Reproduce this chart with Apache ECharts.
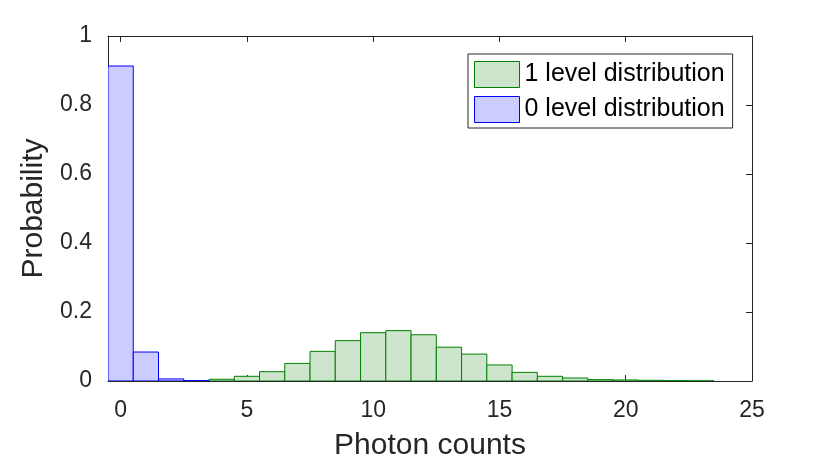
<!DOCTYPE html>
<html>
<head>
<meta charset="utf-8">
<script src="https://cdn.jsdelivr.net/npm/echarts@6/dist/echarts.min.js"></script>
<style>
  html, body { margin: 0; padding: 0; background: #fff; }
  #chart { width: 830px; height: 469px; }
</style>
</head>
<body>
<div id="chart"></div>
<script>
// photon counts (bin centres) and probabilities
const zeroCounts = [0, 1, 2, 3];
const zeroProb = [0.913, 0.084, 0.006, 0.001];

const oneCounts = [3, 4, 5, 6, 7, 8, 9, 10, 11, 12, 13, 14, 15, 16, 17, 18, 19, 20, 21, 22, 23];
const oneProb = [0.001, 0.005, 0.0136, 0.027, 0.051, 0.086, 0.117, 0.140, 0.146, 0.134, 0.098,
  0.078, 0.0465, 0.025, 0.0136, 0.0087, 0.004, 0.003, 0.002, 0.001, 0.0005];

const xTicks = [0, 5, 10, 15, 20, 25];

const axisColor = '#262626';
const font = 'Liberation Sans';

function histBar(fill, stroke) {
  return function (params, api) {
    const x = api.value(0);
    const top = api.coord([x - 0.5, api.value(1)]);
    const bottom = api.coord([x + 0.5, 0]);
    return {
      type: 'rect',
      shape: { x: top[0], y: top[1], width: bottom[0] - top[0], height: bottom[1] - top[1] },
      style: { fill: fill, stroke: stroke, lineWidth: 1 }
    };
  };
}

const chart = echarts.init(document.getElementById('chart'));

const xBase = {
  type: 'value',
  min: -0.5,
  max: 25,
  splitLine: { show: false },
  axisLine: { onZero: false, lineStyle: { color: axisColor, width: 1 } },
  axisTick: { inside: true, length: 6, customValues: xTicks, lineStyle: { color: axisColor } }
};
const yBase = {
  type: 'value',
  min: 0,
  max: 1,
  interval: 0.2,
  splitLine: { show: false },
  axisLine: { show: true, onZero: false, lineStyle: { color: axisColor, width: 1 } },
  axisTick: { show: true, inside: true, length: 6, lineStyle: { color: axisColor } }
};

let option = {
  animation: false,
  textStyle: { fontFamily: font },
  grid: { left: 108, right: 78, top: 36, bottom: 88 },
  legend: {
    orient: 'vertical',
    left: 468,
    top: 54,
    padding: [7, 8, 5, 6],
    itemWidth: 45,
    itemHeight: 26,
    itemGap: 8,
    borderColor: axisColor,
    borderWidth: 1,
    textStyle: { fontSize: 25, color: '#000', fontFamily: font },
    data: [
      { name: '1 level distribution', icon: 'rect',
        itemStyle: { color: '#cce5cc', borderColor: '#008000', borderWidth: 1 } },
      { name: '0 level distribution', icon: 'rect',
        itemStyle: { color: '#ccccff', borderColor: '#0000ff', borderWidth: 1 } }
    ]
  },
  xAxis: [
    Object.assign({}, xBase, {
      position: 'bottom',
      name: 'Photon counts',
      nameLocation: 'middle',
      nameGap: 50,
      nameTextStyle: { fontSize: 30, color: axisColor, fontFamily: font },
      axisLabel: { customValues: xTicks, fontSize: 23, color: axisColor, margin: 18, fontFamily: font }
    }),
    Object.assign({}, xBase, { position: 'top', axisLabel: { show: false } })
  ],
  yAxis: [
    Object.assign({}, yBase, {
      position: 'left',
      name: 'Probability',
      nameLocation: 'middle',
      nameGap: 58,
      nameTextStyle: { fontSize: 30, color: axisColor, fontFamily: font },
      axisLabel: { fontSize: 23, color: axisColor, margin: 16, fontFamily: font }
    }),
    Object.assign({}, yBase, { position: 'right', axisLabel: { show: false } })
  ],
  series: [
    {
      name: '1 level distribution',
      type: 'custom',
      clip: true,
      itemStyle: { color: '#cce5cc', borderColor: '#008000' },
      renderItem: histBar('#cce5cc', '#008000'),
      encode: { x: 0, y: 1 },
      data: oneCounts.map((c, i) => [c, oneProb[i]])
    },
    {
      name: '0 level distribution',
      type: 'custom',
      clip: true,
      itemStyle: { color: '#ccccff', borderColor: '#0000ff' },
      renderItem: histBar('#ccccff', '#0000ff'),
      encode: { x: 0, y: 1 },
      data: zeroCounts.map((c, i) => [c, zeroProb[i]])
    }
  ]
};

chart.setOption(option);
</script>
</body>
</html>
